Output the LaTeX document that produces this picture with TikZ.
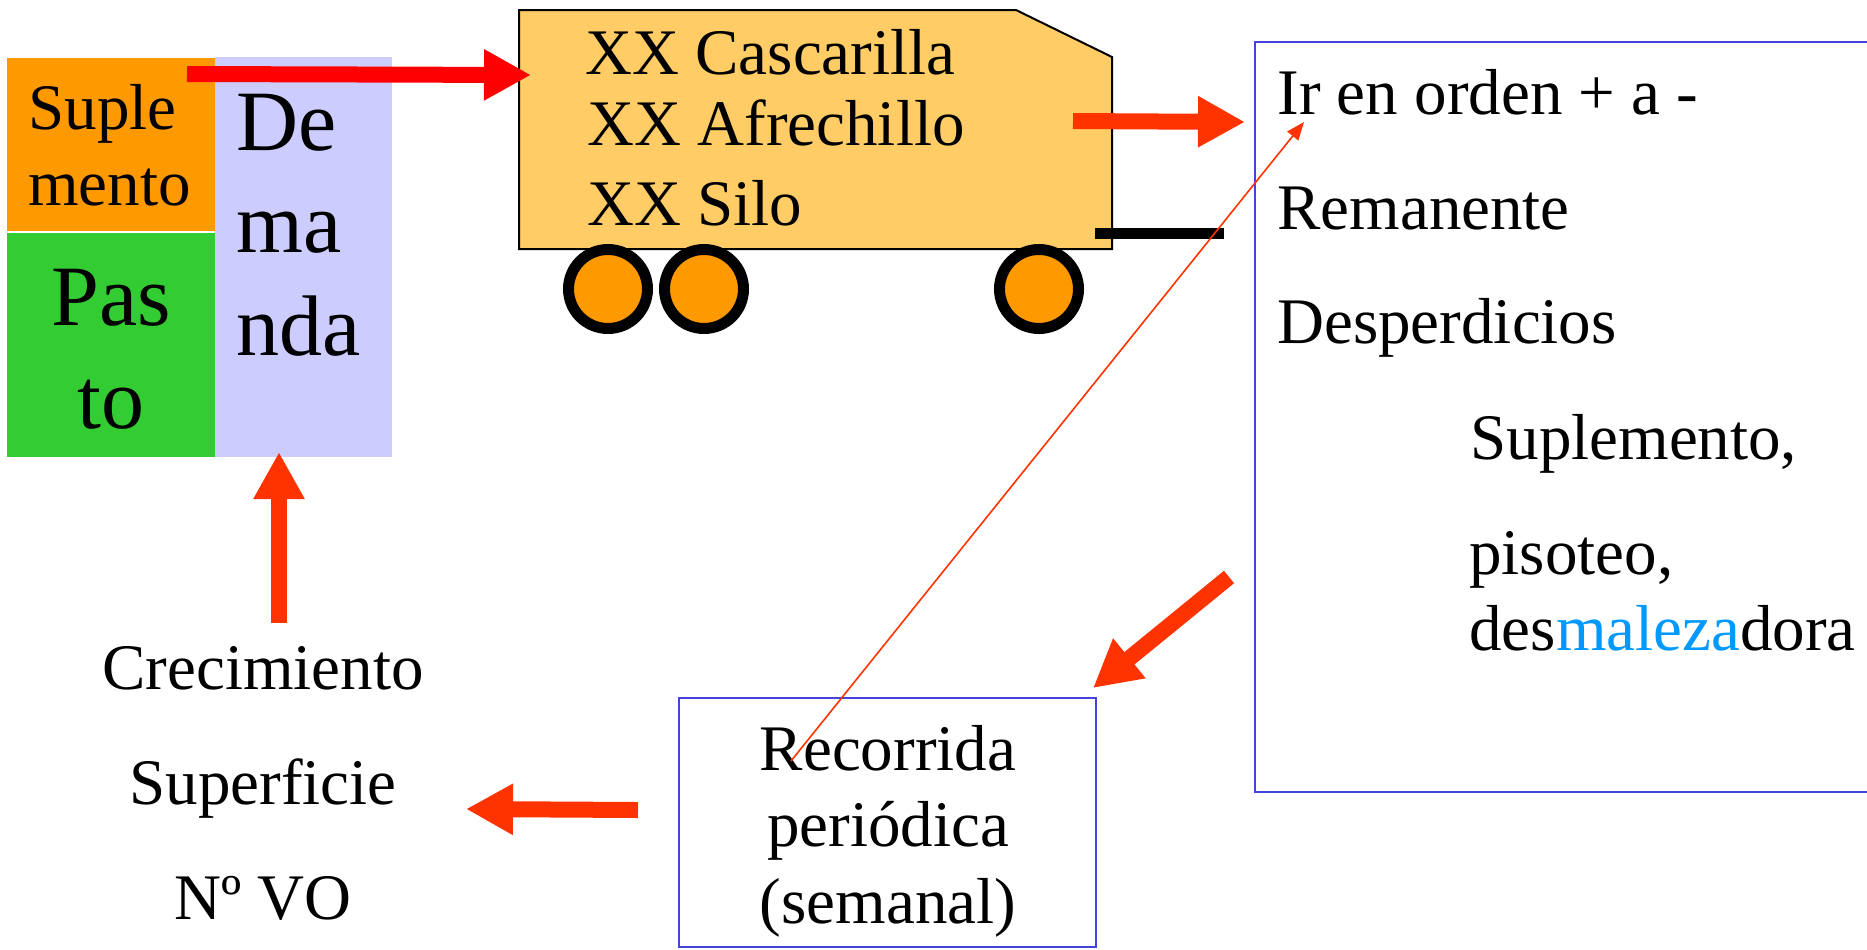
\documentclass[tikz,border=0pt]{standalone}
\usepackage{fontspec}
\setmainfont{Liberation Serif}
\usetikzlibrary{arrows.meta}
\definecolor{supl}{HTML}{FF9900}
\definecolor{pasto}{HTML}{33CC33}
\definecolor{dem}{HTML}{CCCCFF}
\definecolor{carro}{HTML}{FFCC66}
\definecolor{rojo}{HTML}{FF3300}
\definecolor{borde}{HTML}{4444DD}
\definecolor{maleza}{HTML}{0099FF}
\tikzset{
    txt/.style={inner sep=0, anchor=base west, font=\fontsize{32.5bp}{39bp}\selectfont},
    txtc/.style={txt, anchor=base},
    big/.style={inner sep=0, anchor=base west, font=\fontsize{43bp}{52bp}\selectfont},
    grueso/.style={line width=8bp, rojo, -{Triangle[width=24bp,length=23.5bp]}},
    rueda/.style={draw=black, line width=5.5bp, fill=supl},
    caja/.style={draw=borde, line width=1bp},
}

\begin{document}
\begin{tikzpicture}[x=0.5bp, y=-0.5bp]
    \useasboundingbox (0,0) rectangle (1867,949);
    \fill[white] (0,0) rectangle (1867,949);
    \clip (0,0) rectangle (1867,949);

    % alimento
    \fill[supl] (7,58) rectangle (215,231);
    \fill[pasto] (7,233) rectangle (215,457);
    \fill[dem] (215,57) rectangle (392,457);
    \node[txt] (suple) at (28,129) {Suple};
    \node[txt] (mento) at (28,205) {mento};
    \node[big, anchor=base] (pas) at (111,325) {Pas};
    \node[big, anchor=base] (to) at (111,428) {to};
    \node[big] (de) at (236,150) {De};
    \node[big] (ma) at (236,252) {ma};
    \node[big] (nda) at (236,355) {nda};

    % carro
    \draw[fill=carro, line width=1bp] (519,10) -- (1016,10) -- (1112,57) -- (1112,249) -- (519,249) -- cycle;
    \fill[black] (1095,228) rectangle (1224,239);
    \foreach \x in {608,704,1039}
        \draw[rueda] (\x,289) circle [radius=19.75bp];
    \node[txt] (casc) at (585,74) {XX Cascarilla};
    \node[txt] (afre) at (587,145) {XX Afrechillo};
    \node[txt] (silo) at (587,225) {XX Silo};

    % cajas
    \draw[caja] (1255,42) rectangle (1885,792);
    \node[txt] (orden) at (1277,114) {Ir en orden + a -};
    \node[txt] (rem) at (1277,229) {Remanente};
    \node[txt] (desp) at (1277,343) {Desperdicios};
    \node[txt] (supl2) at (1470,459) {Suplemento,};
    \node[txt] (pis) at (1469,574) {pisoteo,};
    \node[txt] (desm) at (1469,650) {des\textcolor{maleza}{maleza}dora};

    \draw[caja] (679,698) rectangle (1096,947);
    \node[txtc] (reco) at (888,770) {Recorrida};
    \node[txtc] (peri) at (888,846) {periódica};
    \node[txtc] (sema) at (888,923) {(semanal)};

    \node[txtc] (crec) at (263,689) {Crecimiento};
    \node[txtc] (sup) at (263,804) {Superficie};
    \node[txtc] (nvo) at (263,919) {Nº VO};

    % flechas
    \coordinate (a1) at (187,74);
    \coordinate (a2) at (531,75);
    \coordinate (b1) at (1073,121);
    \coordinate (b2) at (1245,122);
    \coordinate (c1) at (1229,577);
    \coordinate (c2) at (1093,688);
    \coordinate (d1) at (638,810);
    \coordinate (d2) at (466,809);
    \coordinate (e1) at (279,623);
    \coordinate (e2) at (279,452);
    \coordinate (t1) at (791,761);
    \coordinate (t2) at (1304,122);

    \draw[grueso, red] (a1) -- (a2);
    \draw[grueso] (b1) -- (b2);
    \draw[grueso] (c1) -- (c2);
    \draw[grueso] (d1) -- (d2);
    \draw[grueso] (e1) -- (e2);
    \draw[rojo, line width=0.8bp, -{Triangle[width=7bp,length=9bp]}] (t1) -- (t2);
\end{tikzpicture}
\end{document}
